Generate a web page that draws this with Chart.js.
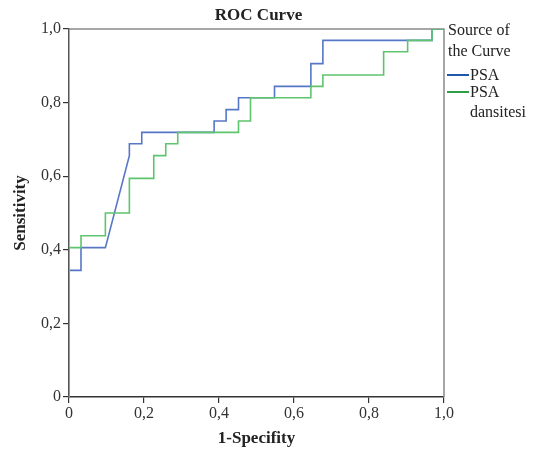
<!DOCTYPE html>
<html>
<head>
<meta charset="utf-8">
<script src="https://cdn.jsdelivr.net/npm/chart.js@4/dist/chart.umd.min.js"></script>
<style>
  html,body{margin:0;padding:0;background:#fff;}
  #wrap{width:541px;height:450px;position:relative;}
</style>
</head>
<body>
<div id="wrap"><canvas id="roc"></canvas></div>
<script>
// ROC coordinates (1 - specificity, sensitivity)
const psaFpr  = [0, 0, 0.032, 0.032, 0.097, 0.161, 0.161, 0.194, 0.194, 0.387, 0.387, 0.419, 0.419, 0.452, 0.452, 0.548, 0.548, 0.645, 0.645, 0.677, 0.677, 0.968, 0.968, 1];
const psaTpr  = [0, 0.344, 0.344, 0.406, 0.406, 0.656, 0.688, 0.688, 0.719, 0.719, 0.750, 0.750, 0.781, 0.781, 0.813, 0.813, 0.844, 0.844, 0.906, 0.906, 0.969, 0.969, 1, 1];
const densFpr = [0, 0, 0.032, 0.032, 0.097, 0.097, 0.161, 0.161, 0.226, 0.226, 0.258, 0.258, 0.290, 0.290, 0.452, 0.452, 0.484, 0.484, 0.645, 0.645, 0.677, 0.677, 0.839, 0.839, 0.903, 0.903, 0.968, 0.968, 1];
const densTpr = [0, 0.406, 0.406, 0.438, 0.438, 0.500, 0.500, 0.594, 0.594, 0.656, 0.656, 0.688, 0.688, 0.719, 0.719, 0.750, 0.750, 0.813, 0.813, 0.844, 0.844, 0.875, 0.875, 0.938, 0.938, 0.969, 0.969, 1, 1];
const tickVals = [0, 0.2, 0.4, 0.6, 0.8, 1.0];
const tickText = ["0", "0,2", "0,4", "0,6", "0,8", "1,0"];
const seriesNames = ["PSA", "PSA\ndansitesi"];
const legendTitle = ["Source of", "the Curve"];

const SERIF = "'Liberation Serif', 'DejaVu Serif', serif";
const blueLine = "#5677c6", greenLine = "#5ec46d";
const blueKey = "#1f57a8", greenKey = "#2f9e46";

function pts(xs, ys){ return xs.map((x,i)=>({x:x, y:ys[i]})); }
function lbl(v){ const i = tickVals.findIndex(t=>Math.abs(t-v)<1e-6); return i<0 ? "" : tickText[i]; }

// title, frame and side legend
const extras = {
  id: "extras",
  beforeDatasetsDraw(chart){
    const {ctx, chartArea:a} = chart;
    ctx.save();
    ctx.strokeStyle = "#8a8a8a"; ctx.lineWidth = 1.5;
    ctx.beginPath();
    ctx.moveTo(a.left, a.top); ctx.lineTo(a.right, a.top); ctx.lineTo(a.right, a.bottom);
    ctx.stroke();
    ctx.restore();
  },
  afterDraw(chart){
    const {ctx, chartArea:a} = chart;
    ctx.save();
    ctx.fillStyle = "#222";
    ctx.font = "bold 17px " + SERIF;
    ctx.textAlign = "center"; ctx.textBaseline = "alphabetic";
    ctx.fillText("ROC Curve", (a.left + a.right)/2 + 2, 20);

    ctx.font = "16px " + SERIF;
    ctx.textAlign = "left";
    ctx.fillText(legendTitle[0], a.right + 4, 35);
    ctx.fillText(legendTitle[1], a.right + 4, 56);
    const keys = [blueKey, greenKey];
    const rowY = [75, 92];
    seriesNames.forEach((name, i)=>{
      ctx.strokeStyle = keys[i]; ctx.lineWidth = 2;
      ctx.beginPath(); ctx.moveTo(a.right + 3, rowY[i]); ctx.lineTo(a.right + 25, rowY[i]); ctx.stroke();
      name.split("\n").forEach((ln, j)=>{
        ctx.fillText(ln, a.right + 26, rowY[i] + 5 + j*20);
      });
    });
    ctx.restore();
  }
};

new Chart(document.getElementById("roc"), {
  type: "line",
  data: {
    datasets: [
      {label: seriesNames[1], data: pts(densFpr, densTpr), borderColor: greenLine, borderWidth: 1.6, pointRadius: 0, tension: 0, order: 0},
      {label: seriesNames[0], data: pts(psaFpr, psaTpr), borderColor: blueLine, borderWidth: 1.6, pointRadius: 0, tension: 0, order: 1}
    ]
  },
  options: {
    responsive: true, maintainAspectRatio: false, animation: false,
    layout: {padding: {top: 29, right: 97, left: 0, bottom: 0}},
    plugins: {legend: {display: false}, tooltip: {enabled: false}, title: {display: false}},
    scales: {
      x: {
        type: "linear", min: 0, max: 1,
        afterFit(s){ s.height = 53; },
        afterBuildTicks(s){ s.ticks = tickVals.map(v=>({value:v})); },
        grid: {drawOnChartArea: false, tickLength: 6, color: "#333", lineWidth: 1.2},
        border: {color: "#333", width: 1.5},
        ticks: {callback: lbl, color: "#333", padding: 1, font: {family: SERIF, size: 16}, maxRotation: 0},
        title: {display: true, text: "1-Specifity", color: "#222", font: {family: SERIF, size: 17, weight: "bold"}, padding: {top: 0, bottom: 1}}
      },
      y: {
        type: "linear", min: 0, max: 1,
        afterFit(s){ s.width = 69; },
        afterBuildTicks(s){ s.ticks = tickVals.map(v=>({value:v})); },
        grid: {drawOnChartArea: false, tickLength: 6, color: "#333", lineWidth: 1.2},
        border: {color: "#555", width: 1.5},
        ticks: {callback: lbl, color: "#333", padding: 2, font: {family: SERIF, size: 16}},
        title: {display: true, text: "Sensitivity", color: "#222", font: {family: SERIF, size: 17, weight: "bold"}, padding: {top: 10, bottom: 0}}
      }
    }
  },
  plugins: [extras]
});
</script>
</body>
</html>
